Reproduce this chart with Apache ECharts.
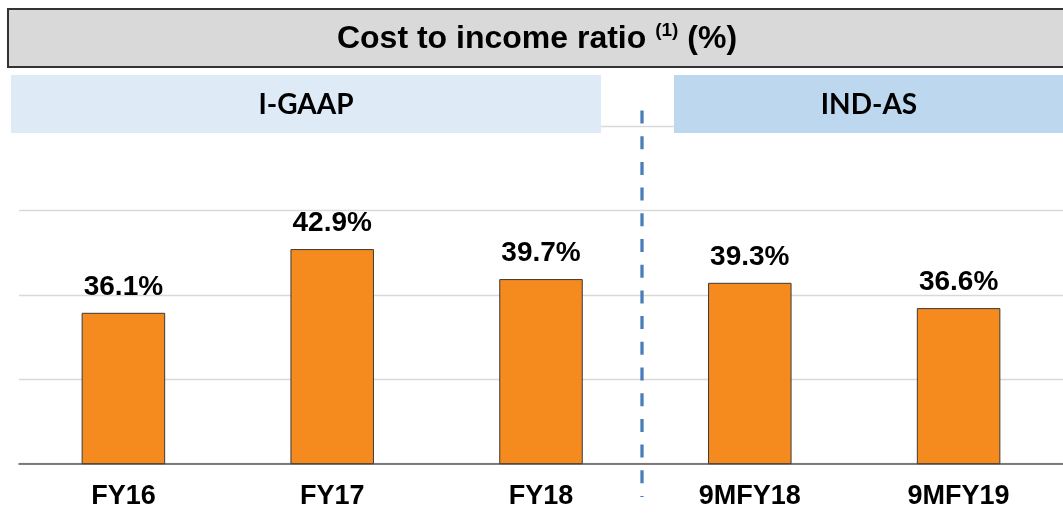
<!DOCTYPE html>
<html>
<head>
<meta charset="utf-8">
<script src="https://cdn.jsdelivr.net/npm/echarts@6/dist/echarts.min.js"></script>
<style>
  html, body { margin: 0; padding: 0; background: #fff; }
  #chart { width: 1063px; height: 519px; }
</style>
</head>
<body>
<div id="chart"></div>
<script>
// categories and values (cost to income ratio, %)
const categories = ['FY16', 'FY17', 'FY18', '9MFY18', '9MFY19']
const ratios = [36.1, 42.9, 39.7, 39.3, 36.6]
const groupLabels = ['I-GAAP', 'IND-AS']

const chart = echarts.init(document.getElementById('chart'))

chart.setOption({
  animation: false,
  grid: {
    left: 19,
    right: 0,
    top: 126.3,
    bottom: 55.3,
    containLabel: false
  },
  xAxis: {
    type: 'category',
    data: categories,
    axisTick: { show: false },
    axisLine: { lineStyle: { color: '#595959', width: 1.5 } },
    axisLabel: {
      margin: 19,
      color: '#000',
      fontFamily: 'Liberation Sans, Arial, sans-serif',
      fontWeight: 'bold',
      fontSize: 27
    }
  },
  yAxis: [{
    type: 'value',
    min: 20,
    max: 56,
    axisLabel: { show: false },
    axisLine: { show: false },
    axisTick: { show: false },
    splitLine: { show: false }
  }, {
    // only used for the gridlines
    type: 'value',
    min: 0,
    max: 4,
    interval: 1,
    position: 'left',
    axisLabel: { show: false },
    axisLine: { show: false },
    axisTick: { show: false },
    splitLine: { lineStyle: { color: '#d9d9d9', width: 1.3 } }
  }],
  series: [{
    type: 'bar',
    data: ratios,
    yAxisIndex: 0,
    barWidth: '40%',
    itemStyle: {
      color: '#f58a1f',
      borderColor: '#3a3a3a',
      borderWidth: 1
    },
    label: {
      show: true,
      position: 'top',
      distance: 12,
      color: '#000',
      fontFamily: 'Liberation Sans, Arial, sans-serif',
      fontWeight: 'bold',
      fontSize: 28,
      formatter: p => p.value.toFixed(1) + '%'
    },
    z: 3
  }],
  graphic: [
    {
      type: 'rect',
      z: 100,
      shape: { x: 8, y: 9, width: 1070, height: 58 },
      style: { fill: '#d9d9d9', stroke: '#333', lineWidth: 2 }
    },
    {
      type: 'text',
      z: 101,
      style: {
        x: 537,
        y: 39,
        align: 'center',
        verticalAlign: 'middle',
        text: '{a|Cost to income ratio }{s|(1)}{a| (%)}',
        rich: {
          a: {
            fontFamily: 'Liberation Sans, Arial, sans-serif',
            fontWeight: 'bold',
            fontSize: 32,
            lineHeight: 36,
            fill: '#000'
          },
          s: {
            fontFamily: 'Liberation Sans, Arial, sans-serif',
            fontWeight: 'bold',
            fontSize: 19,
            lineHeight: 22,
            verticalAlign: 'top',
            fill: '#000'
          }
        }
      }
    },
    {
      type: 'rect',
      z: 100,
      shape: { x: 11, y: 75, width: 590, height: 58 },
      style: { fill: '#deeaf6' }
    },
    {
      type: 'text',
      z: 101,
      style: {
        x: 306,
        y: 105,
        align: 'center',
        verticalAlign: 'middle',
        text: groupLabels[0],
        font: 'bold 28px Lato, "Open Sans", sans-serif',
        fill: '#000'
      }
    },
    {
      type: 'rect',
      z: 100,
      shape: { x: 674, y: 75, width: 400, height: 58 },
      style: { fill: '#bdd7ee' }
    },
    {
      type: 'text',
      z: 101,
      style: {
        x: 869,
        y: 105,
        align: 'center',
        verticalAlign: 'middle',
        text: groupLabels[1],
        font: 'bold 28px Lato, "Open Sans", sans-serif',
        fill: '#000'
      }
    },
    {
      type: 'line',
      z: 50,
      shape: { x1: 642, y1: 110.5, x2: 642, y2: 497 },
      style: { stroke: '#4a7ebb', lineWidth: 3.3, lineDash: [13, 12.7] }
    }
  ]
})
</script>
</body>
</html>
